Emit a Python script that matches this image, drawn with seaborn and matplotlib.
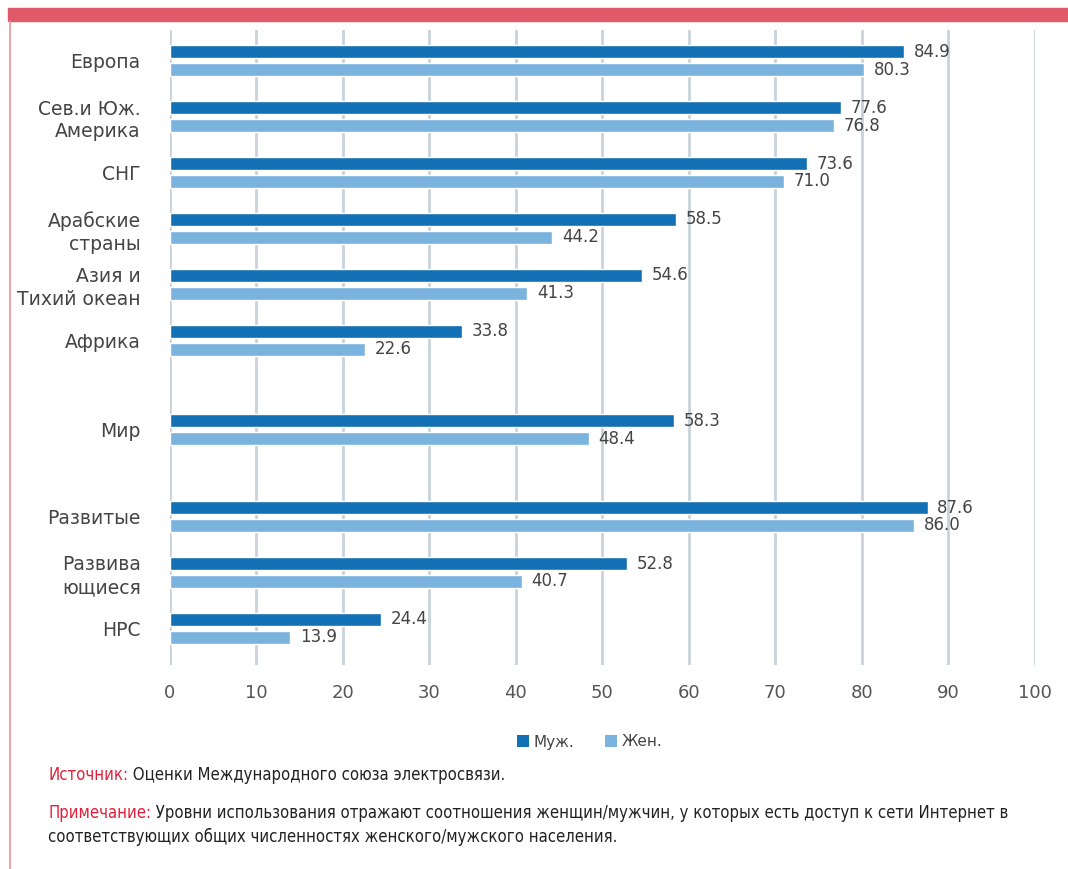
import pandas as pd
import seaborn as sns
import matplotlib.pyplot as plt
from matplotlib.patches import Rectangle, Patch
from matplotlib.lines import Line2D

regions = ["Европа", "Сев.и Юж.\nАмерика", "СНГ", "Арабские\nстраны",
           "Азия и\nТихий океан", "Африка", "Мир", "Развитые",
           "Развива\nющиеся", "НРС"]
# row positions (gaps before "Мир" and "Развитые")
row_pos = [0, 1, 2, 3, 4, 5, 6.6, 8.15, 9.15, 10.15]
male = [84.9, 77.6, 73.6, 58.5, 54.6, 33.8, 58.3, 87.6, 52.8, 24.4]
female = [80.3, 76.8, 71.0, 44.2, 41.3, 22.6, 48.4, 86.0, 40.7, 13.9]
series = ["Муж.", "Жен."]
colors = ["#1470b4", "#7ab4de"]
xticks = [0, 10, 20, 30, 40, 50, 60, 70, 80, 90, 100]

df = pd.DataFrame({
    "pos": row_pos * 2,
    "value": male + female,
    "sex": [series[0]] * len(male) + [series[1]] * len(female),
})

sns.set_style("white")
plt.rcParams["font.family"] = ["DejaVu Sans"]

fig = plt.figure(figsize=(10.68, 8.69), dpi=100)
ax = fig.add_axes([0.159, 0.235, 0.81, 0.73])

sns.barplot(data=df, x="value", y="pos", hue="sex", orient="y",
            native_scale=True, palette=colors, width=0.64, gap=0.28,
            legend=False, ax=ax, saturation=1)

for cont in ax.containers:
    ax.bar_label(cont, fmt="%.1f", padding=7, fontsize=12, color="#444444")

ax.set_xlim(0, 100)
ax.set_ylim(10.8, -0.54)
ax.set_xticks(xticks)
ax.set_xticklabels([str(t) for t in xticks], fontsize=13, color="#555555")
ax.set_yticks(row_pos)
ax.set_yticklabels(regions, fontsize=13.5, color="#444444", linespacing=1.25)
ax.tick_params(axis="y", length=0, pad=21)
ax.tick_params(axis="x", length=0, pad=14)
ax.set_xlabel("")
ax.set_ylabel("")
ax.grid(axis="x", color="#c9d1db", linewidth=2)
ax.grid(axis="y", visible=False)
ax.set_axisbelow(True)
sns.despine(ax=ax, left=True, bottom=True)

# legend
handles = [Patch(facecolor=c, edgecolor="none") for c in colors]
fig.legend(handles, series, loc="center", bbox_to_anchor=(590 / 1068, 1 - 742 / 869),
           ncol=2, frameon=False, fontsize=11, handlelength=0.8, handleheight=0.8,
           columnspacing=2.0, handletextpad=0.3, labelcolor="#444444")

# decorative frame: red top band and thin left line
fig.patches.append(Rectangle((8 / 1068, 1 - 21 / 869), 1, 13 / 869,
                             transform=fig.transFigure, color="#e05a6a", zorder=0))
fig.lines.append(Line2D([9.5 / 1068, 9.5 / 1068], [0, 1 - 21 / 869],
                        transform=fig.transFigure, color="#e8909a", linewidth=1.2))

# footnotes
foot_kw = dict(fontsize=12, family=["DejaVu Sans"], fontstretch="condensed", va="center")
renderer = fig.canvas.get_renderer()
notes = [
    ("Источник:", " Оценки Международного союза электросвязи.", 775),
    ("Примечание:", " Уровни использования отражают соотношения женщин/мужчин, у которых есть доступ к сети Интернет в", 813),
]
for red, black, ypx in notes:
    t = fig.text(48 / 1068, 1 - ypx / 869, red, color="#e0203a", **foot_kw)
    bb = t.get_window_extent(renderer)
    fig.text(bb.x1 / fig.bbox.width, 1 - ypx / 869, black, color="#222222", **foot_kw)
fig.text(48 / 1068, 1 - 837 / 869, "соответствующих общих численностях женского/мужского населения.",
         color="#222222", **foot_kw)

fig.savefig("out.png", dpi=100)
